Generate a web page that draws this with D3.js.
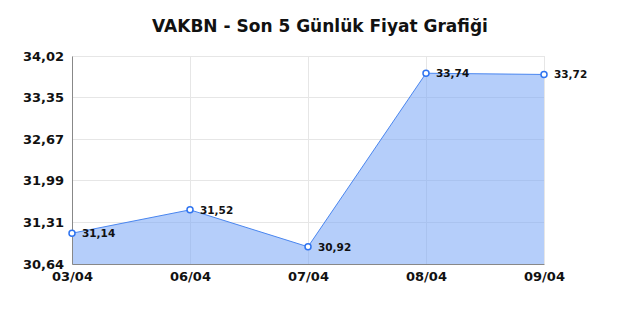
<!DOCTYPE html>
<html><head><meta charset="utf-8">
<script src="https://cdn.jsdelivr.net/npm/d3@7"></script>
<style>body{margin:0;background:#fff}svg{display:block;font-family:"DejaVu Sans",sans-serif}</style>
</head><body><svg id="c" width="640" height="320"></svg>
<script>
const title = "VAKBN - Son 5 Günlük Fiyat Grafiği";
const dates = ["03/04","06/04","07/04","08/04","09/04"];
const prices = [31.14, 31.52, 30.92, 33.74, 33.72];
const priceLabels = ["31,14","31,52","30,92","33,74","33,72"];
const yTicks = [30.64, 31.316, 31.992, 32.668, 33.344, 34.02];
const yTickLabels = ["30,64","31,31","31,99","32,67","33,35","34,02"];

const svg = d3.select("#c");
const m = {l:72, r:96, t:56, b:56};
const W = 640, H = 320;
const x = d3.scalePoint().domain(dates).range([m.l, W-m.r]);
const y = d3.scaleLinear().domain([30.64, 34.02]).range([H-m.b, m.t]);

svg.append("text").attr("x", 320).attr("y", 32).attr("text-anchor","middle")
  .attr("font-size", 17).attr("font-weight","bold").attr("fill","#111").text(title);

// grid
const g = svg.append("g");
g.selectAll("line.h").data(yTicks).join("line")
  .attr("x1", m.l).attr("x2", W-m.r).attr("y1", d=>y(d)).attr("y2", d=>y(d))
  .attr("stroke","#e6e6e6").attr("stroke-width",1).attr("shape-rendering","crispEdges");
g.selectAll("line.v").data(dates).join("line")
  .attr("x1", d=>x(d)).attr("x2", d=>x(d)).attr("y1", m.t).attr("y2", H-m.b)
  .attr("stroke","#e6e6e6").attr("stroke-width",1).attr("shape-rendering","crispEdges");

const data = dates.map((d,i)=>({d, v:prices[i], l:priceLabels[i]}));
svg.append("path").datum(data)
  .attr("d", d3.area().x(d=>x(d.d)).y0(y(30.64)).y1(d=>y(d.v)))
  .attr("fill","rgba(120,165,245,0.55)");
svg.append("path").datum(data)
  .attr("d", d3.line().x(d=>x(d.d)).y(d=>y(d.v)))
  .attr("fill","none").attr("stroke","#4a86ef").attr("stroke-width",1);

// axes
const ya = svg.append("g").attr("transform",`translate(${m.l},0)`)
  .call(d3.axisLeft(y).tickValues(yTicks).tickFormat((d,i)=>yTickLabels[i]).tickSize(0).tickPadding(8));
ya.select(".domain").attr("stroke","#888");
ya.selectAll("text").attr("font-size",13).attr("font-weight","bold").attr("fill","#111")
  .attr("font-family","DejaVu Sans");
const xa = svg.append("g").attr("transform",`translate(0,${H-m.b})`)
  .call(d3.axisBottom(x).tickSize(0).tickPadding(8));
xa.select(".domain").attr("stroke","#888");
xa.selectAll("text").attr("font-size",13).attr("font-weight","bold").attr("fill","#111")
  .attr("font-family","DejaVu Sans");

svg.selectAll("circle.p").data(data).join("circle")
  .attr("cx", d=>x(d.d)).attr("cy", d=>y(d.v)).attr("r",3)
  .attr("fill","#fff").attr("stroke","#2f74f0").attr("stroke-width",1.5);
svg.selectAll("text.lbl").data(data).join("text")
  .attr("x", d=>x(d.d)+10).attr("y", d=>y(d.v)+4)
  .attr("font-size",10.5).attr("font-weight","bold").attr("fill","#111").text(d=>d.l);
</script></body></html>
